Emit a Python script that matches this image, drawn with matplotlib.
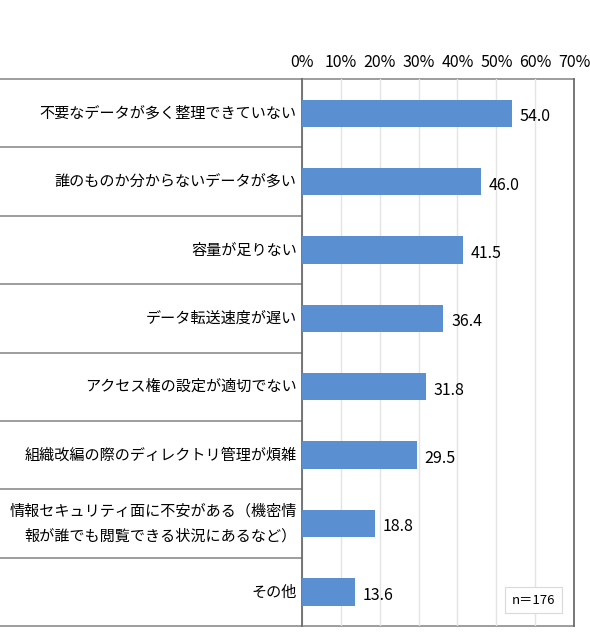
import numpy as np
import matplotlib
matplotlib.use('Agg')
import matplotlib.pyplot as plt
from matplotlib.transforms import blended_transform_factory

plt.rcParams['font.family'] = ['Noto Sans CJK JP', 'DejaVu Sans']

# データ
categories = [
    '不要なデータが多く整理できていない',
    '誰のものか分からないデータが多い',
    '容量が足りない',
    'データ転送速度が遅い',
    'アクセス権の設定が適切でない',
    '組織改編の際のディレクトリ管理が煩雑',
    '情報セキュリティ面に不安がある（機密情\n報が誰でも閲覧できる状況にあるなど）',
    'その他',
]
values = [54.0, 46.0, 41.5, 36.4, 31.8, 29.5, 18.8, 13.6]
xticks = [0, 10, 20, 30, 40, 50, 60, 70]
n_label = 'n＝176'

fig = plt.figure(figsize=(5.9, 6.43), dpi=100)
ax = fig.add_axes([0.5119, 0.0264, 0.4610, 0.8507])

y = np.arange(len(categories))
ax.barh(y, values, height=0.4, color='#5A8FD2', zorder=3)
ax.set_ylim(len(categories) - 0.5, -0.5)
ax.set_xlim(0, 70)

for yi, v in zip(y, values):
    ax.text(v + 2.0, yi + 0.05, f'{v:.1f}', va='center', ha='left', fontsize=11.5)

# 目盛り
ax.xaxis.tick_top()
ax.set_xticks(xticks)
ax.set_xticklabels([f'{t}%' for t in xticks], fontsize=11.5)
ax.tick_params(axis='x', length=0, pad=6)
ax.set_yticks([])
ax.grid(axis='x', color='#e4e4e4', linewidth=1, zorder=0)

for side in ['left', 'right']:
    ax.spines[side].set_color('#606060')
    ax.spines[side].set_linewidth(1.2)
for side in ['top', 'bottom']:
    ax.spines[side].set_visible(False)

# 左側の表の罫線（上下は全幅）
trans = blended_transform_factory(fig.transFigure, ax.transData)
bounds = np.arange(len(categories) + 1) - 0.5
for i, b in enumerate(bounds):
    x_end = 0.973 if i in (0, len(bounds) - 1) else 0.5119
    ax.plot([0, x_end], [b, b], transform=trans, color='#8c8c8c',
            linewidth=1.2, clip_on=False, zorder=1)

# ラベル
for yi, c in zip(y, categories):
    ax.text(0.5119 - 0.009, yi, c, transform=trans, ha='right', va='center',
            fontsize=10.9, linespacing=1.65)

ax.text(0.93, 0.047, n_label, transform=ax.transAxes, ha='right', va='center',
        fontsize=9.5, bbox=dict(boxstyle='square,pad=0.5', facecolor='white',
                                edgecolor='#d9d9d9', linewidth=0.8))

fig.savefig('out.png', dpi=100)
